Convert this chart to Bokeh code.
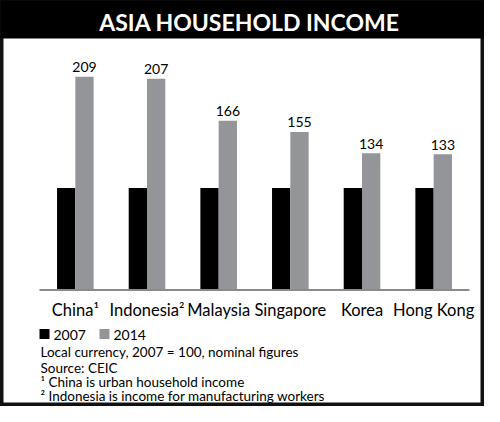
import numpy as np
from bokeh.plotting import figure
from bokeh.models import Range1d
from bokeh.core.properties import value
from bokeh.embed import file_html
from bokeh.resources import INLINE

# ---------------- data ----------------
categories = ["China\u00b9", "Indonesia\u00b2", "Malaysia", "Singapore", "Korea", "Hong Kong"]
series = ["2007", "2014"]
values_2007 = [100, 100, 100, 100, 100, 100]
values_2014 = [209, 207, 166, 155, 134, 133]
title_text = "ASIA HOUSEHOLD INCOME"
notes = [
    "Local currency, 2007 = 100, nominal figures",
    "Source: CEIC",
    "\u00b9 China is urban household income",
    "\u00b2 Indonesia is income for manufacturing workers",
]

# ---------------- layout (canvas pixels) ----------------
W, H = 484, 406
AXIS_LEFT, AXIS_RIGHT = 39, 469
BASE_Y = 289.5
PPU = 1.02  # pixels per value unit
n = len(categories)
cat_px = (AXIS_RIGHT - AXIS_LEFT) / n
x_start = -AXIS_LEFT / cat_px
x_end = n + (W - AXIS_RIGHT) / cat_px
y_start = -(H - BASE_Y) / PPU
y_end = BASE_Y / PPU


def X(px):
    return x_start + px / cat_px


def Y(py):
    return y_end - py / PPU


FONT = value("Lato")
C_2007 = "#000000"
C_2014 = "#939598"

p = figure(width=W, height=H, output_backend="svg", toolbar_location=None,
           x_range=Range1d(x_start, x_end), y_range=Range1d(y_start, y_end),
           x_axis_location=None, y_axis_location=None, min_border=0,
           title=None)
p.grid.visible = False
p.background_fill_color = "white"
p.border_fill_color = "white"
p.outline_line_color = "#111111"
p.outline_line_width = 6

# bars
centers = np.arange(n) + 0.5
bar_w = 18.3 / cat_px
x07 = centers - bar_w / 2
x14 = centers + bar_w / 2
p.vbar(x=x07, top=values_2007, bottom=0, width=bar_w, fill_color=C_2007, line_color=None)
p.vbar(x=x14, top=values_2014, bottom=0, width=bar_w, fill_color=C_2014, line_color=None)

# baseline
p.segment(x0=[0], y0=[0], x1=[n], y1=[0], line_color="#8a8a8a", line_width=2)

# value labels
p.text(x=x14, y=values_2014, text=[str(v) for v in values_2014], y_offset=-9.5,
       text_align="center", text_baseline="middle", text_font=FONT,
       text_font_size="14px", text_color="black")

# category labels
p.text(x=centers, y=[0] * n, text=categories, y_offset=20,
       text_align="center", text_baseline="middle", text_font=FONT,
       text_font_size="16.5px", text_color="black")

# title bar
p.quad(left=[X(-10)], right=[X(W + 10)], top=[Y(-10)], bottom=[Y(38)],
       fill_color="black", line_color=None)
p.text(x=[X(249)], y=[Y(21.5)], text=[title_text], text_align="center",
       text_baseline="middle", text_font=FONT, text_font_style="bold",
       text_font_size="23px", text_color="white")

# legend
leg_x = [44, 104]
leg_cols = [C_2007, C_2014]
p.scatter(x=[X(v) for v in leg_x], y=[Y(333.5)] * 2, marker="square", size=10,
          fill_color=leg_cols, line_color=None)
p.text(x=[X(v + 9) for v in leg_x], y=[Y(334.5)] * 2, text=series,
       text_align="left", text_baseline="middle", text_font=FONT,
       text_font_size="14px", text_color="black")

# notes
note_y = [351, 367, 381.5, 395]
p.text(x=[X(40)] * len(notes), y=[Y(v) for v in note_y], text=notes,
       text_align="left", text_baseline="middle", text_font=FONT,
       text_font_size="13.5px", text_color="black")

open("out.html", "w").write(file_html(p, INLINE))
